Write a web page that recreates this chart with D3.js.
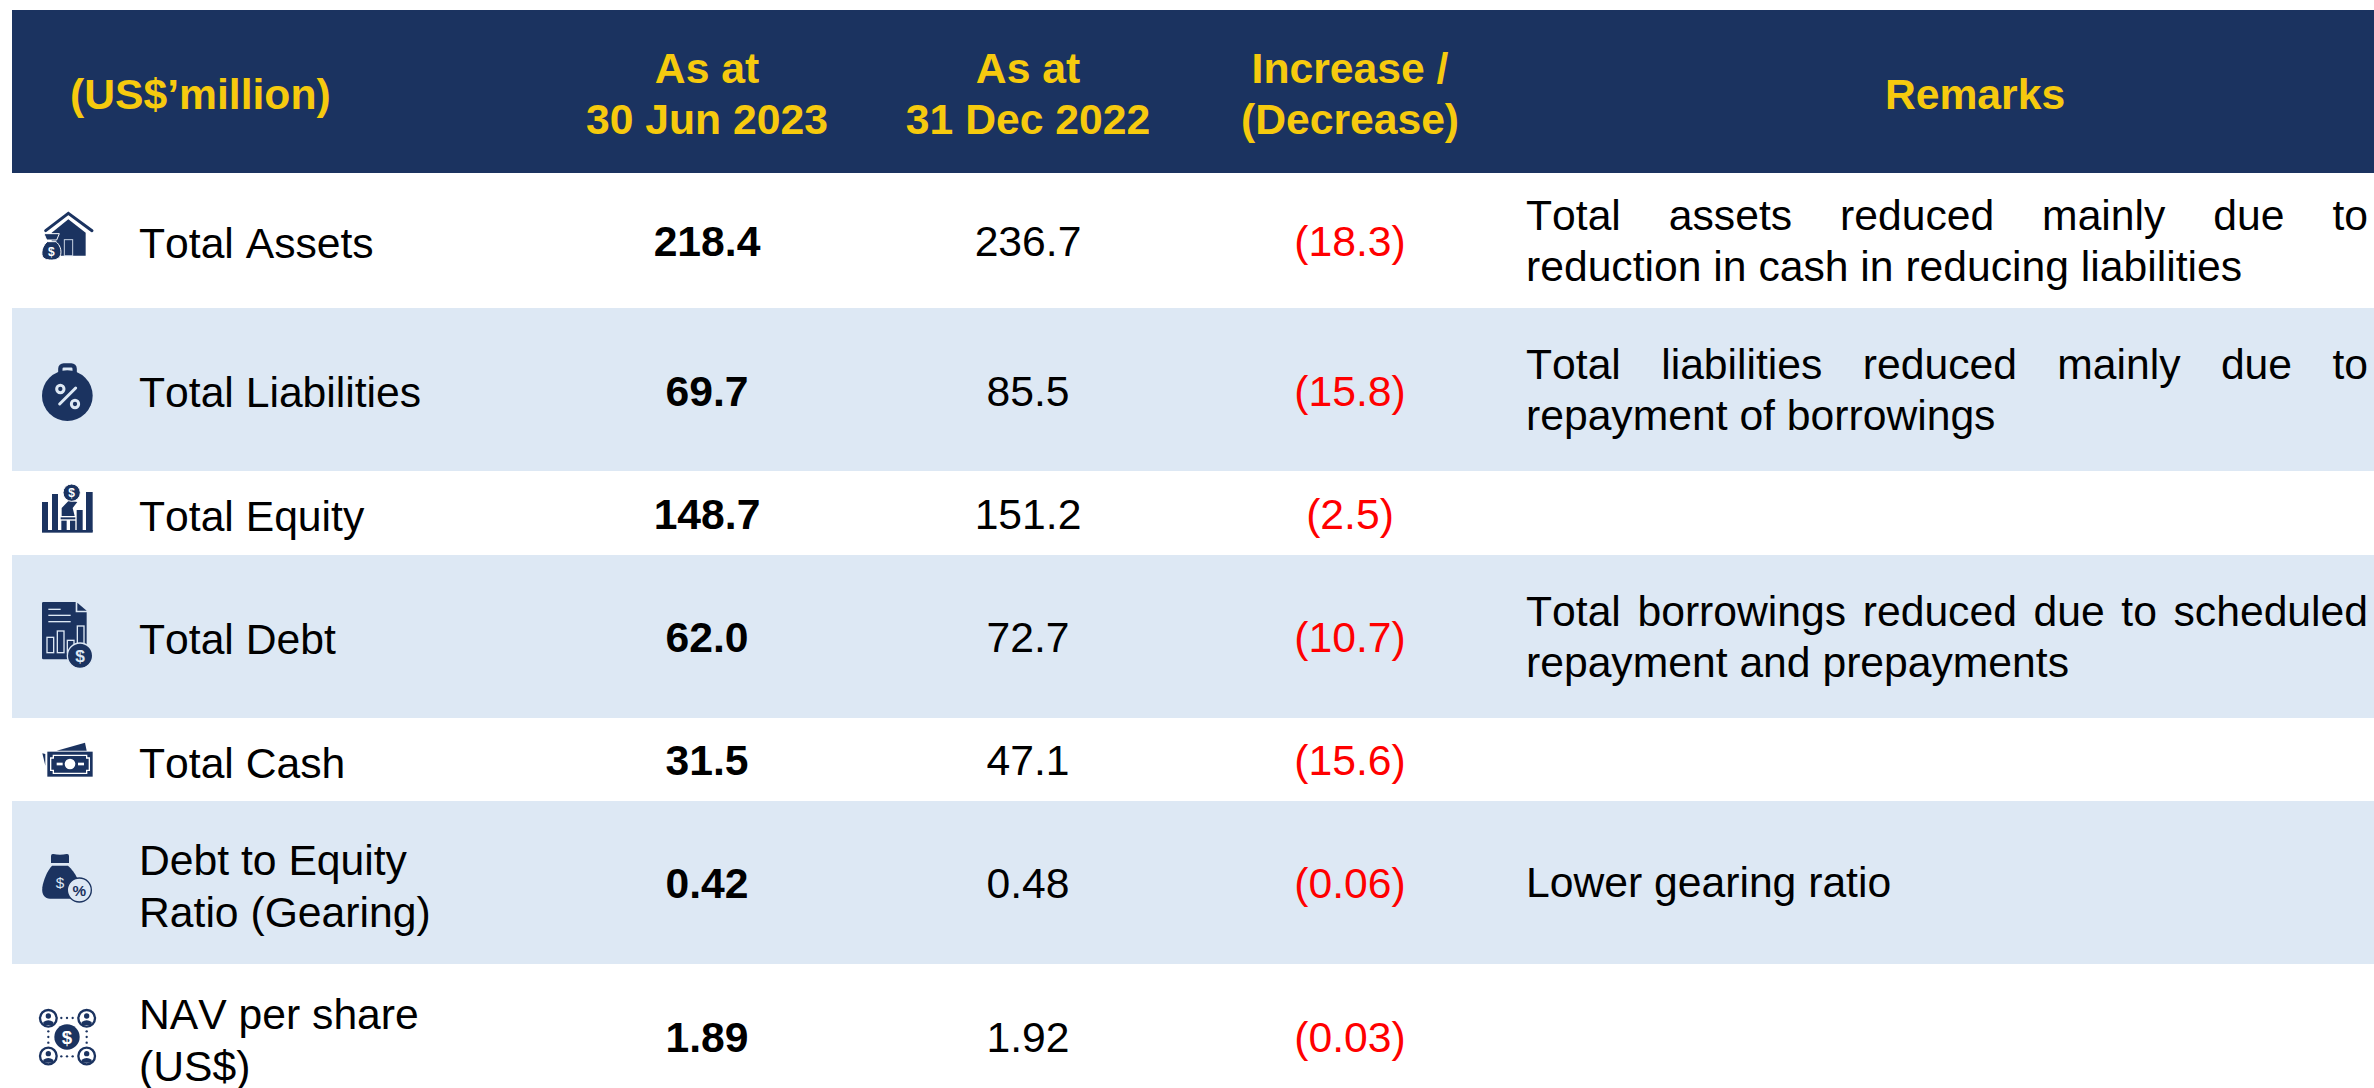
<!DOCTYPE html>
<html>
  <head>
    <title>Balance sheet table</title>
    <style>
      html, body { margin: 0; padding: 0; background: #fff; }
      svg { display: block; }
      text { font-family: "Liberation Sans", Arial, sans-serif; font-kerning: none; }
    </style>
  </head>
  <body>
    <svg width="2374" height="1088"></svg>
    <script src="https://cdn.jsdelivr.net/npm/d3@7/dist/d3.min.js"></script>
    <script>
      // data
      var categories = ["Total Assets", "Total Liabilities", "Total Equity", "Total Debt", "Total Cash", "Debt to Equity|Ratio (Gearing)", "NAV per share|(US$)"];
      var jun2023 = [218.4, 69.7, 148.7, 62.0, 31.5, 0.42, 1.89];
      var dec2022 = [236.7, 85.5, 151.2, 72.7, 47.1, 0.48, 1.92];
      var change = [-18.3, -15.8, -2.5, -10.7, -15.6, -0.06, -0.03];
      var decimals = [1, 1, 1, 1, 1, 2, 2];
      var remarks = [
        ["Total assets reduced mainly due to", "reduction in cash in reducing liabilities"],
        ["Total liabilities reduced mainly due to", "repayment of borrowings"],
        [],
        ["Total borrowings reduced due to scheduled", "repayment and prepayments"],
        [],
        ["Lower gearing ratio"],
        []
      ];
      var headers = [["(US$\u2019million)"], ["As at", "30 Jun 2023"], ["As at", "31 Dec 2022"], ["Increase /", "(Decrease)"], ["Remarks"]];

      // layout
      var W = 2374, H = 1088, tableLeft = 12, tableTop = 10, headerBottom = 173;
      var rowEdges = [173, 308, 471, 555, 718, 801, 964, 1088];
      var labelBase = [258, 407, 531, 654, 778, 875, 1029];
      var valueBase = [256, 406, 529, 652, 775, 898, 1052];
      var remarkBase = [230, 379, 0, 626, 0, 897, 0];
      var labelLineH = 52, remarkLineH = 51;
      var navy = "#1b3360", yellow = "#f6ca0e", band = "#dde8f4";

      var svg = d3.select("svg");
      var columns = d3.scaleOrdinal().domain(["jun", "dec", "chg", "rem"]).range([707, 1028, 1350, 1975]);
      var rowTop = d3.scaleOrdinal().domain(d3.range(categories.length)).range(rowEdges.slice(0, -1));
      var rowBottom = d3.scaleOrdinal().domain(d3.range(categories.length)).range(rowEdges.slice(1));

      // background
      svg.append("rect").attr("x", tableLeft).attr("y", tableTop).attr("width", W - tableLeft).attr("height", headerBottom - tableTop).attr("fill", navy);
      svg.selectAll("rect.band")
        .data(d3.range(categories.length).filter(function(i){ return i % 2 == 1; }))
        .enter().append("rect")
        .attr("class", "band")
        .attr("x", tableLeft)
        .attr("y", function(i){ return rowTop(i); })
        .attr("width", W - tableLeft)
        .attr("height", function(i){ return rowBottom(i) - rowTop(i); })
        .attr("fill", band);

      // header text
      var headX = [70, columns("jun"), columns("dec"), columns("chg"), columns("rem")];
      headers.forEach(function(lines, c){
        lines.forEach(function(s, k){
          svg.append("text")
            .attr("x", headX[c])
            .attr("y", lines.length == 1 ? 109 : (k == 0 ? 83 : 134))
            .attr("text-anchor", c == 0 ? "start" : "middle")
            .attr("font-size", 42.67)
            .attr("font-weight", "bold")
            .attr("fill", yellow)
            .text(s);
        });
      });

      // rows
      var fontSize = 42.67;
      function num(v, i){ return d3.format("." + decimals[i] + "f")(Math.abs(v)); }

      categories.forEach(function(cat, i){
        var lines = cat.split("|");
        lines.forEach(function(s, k){
          svg.append("text").attr("x", 139).attr("y", labelBase[i] + k * labelLineH)
            .attr("font-size", fontSize).attr("fill", "#000").text(s);
        });
      });

      svg.selectAll("text.jun").data(jun2023).enter().append("text")
        .attr("class", "jun").attr("x", columns("jun"))
        .attr("y", function(d, i){ return valueBase[i]; })
        .attr("text-anchor", "middle").attr("font-size", fontSize).attr("font-weight", "bold")
        .text(function(d, i){ return num(d, i); });

      svg.selectAll("text.dec").data(dec2022).enter().append("text")
        .attr("class", "dec").attr("x", columns("dec"))
        .attr("y", function(d, i){ return valueBase[i]; })
        .attr("text-anchor", "middle").attr("font-size", fontSize)
        .text(function(d, i){ return num(d, i); });

      svg.selectAll("text.chg").data(change).enter().append("text")
        .attr("class", "chg").attr("x", columns("chg"))
        .attr("y", function(d, i){ return valueBase[i]; })
        .attr("text-anchor", "middle").attr("font-size", fontSize).attr("fill", "#ff0000")
        .text(function(d, i){ return d < 0 ? "(" + num(d, i) + ")" : num(d, i); });

      // remarks, first line of a two line remark is justified
      var remLeft = 1526, remRight = 2368;
      remarks.forEach(function(lines, i){
        lines.forEach(function(s, k){
          var t = svg.append("text").attr("x", remLeft).attr("y", remarkBase[i] + k * remarkLineH)
            .attr("font-size", fontSize).text(s);
          if (lines.length == 2 && k == 0) {
            var gaps = s.split(" ").length - 1;
            var extra = (remRight - remLeft - t.node().getComputedTextLength()) / gaps;
            t.attr("word-spacing", extra);
          }
        });
      });

      // icons, traced in zoomed crop pixels (3x)
      function icon(x, y){
        return svg.append("g").attr("transform", "translate(" + x + "," + y + ") scale(" + (1 / 3) + ")");
      }
      function dollar(g, x, y, size, col){
        g.append("text").attr("x", x).attr("y", y).attr("text-anchor", "middle")
          .attr("font-size", size).attr("font-weight", "bold").attr("fill", col).text("$");
      }
      var light = "#dde8f4";

      // house + bag
      var a = icon(20, 190);
      a.append("path").attr("d", "M77,122L145,70L216,122").attr("fill", "none").attr("stroke", navy).attr("stroke-width", 9).attr("stroke-linecap", "round");
      a.append("path").attr("d", "M95,128L145,88L197,128V197H95Z").attr("fill", navy);
      a.append("rect").attr("x", 133).attr("y", 149).attr("width", 25).attr("height", 48).attr("fill", navy).attr("stroke", "#c9d3e3").attr("stroke-width", 3);
      a.append("path").attr("d", "M72,131H118L110,150H80Z").attr("fill", navy).attr("stroke", "#fff").attr("stroke-width", 3);
      a.append("path").attr("d", "M82,155H108C120,165 125,180 122,194C118,207 106,210 94,210C80,210 68,207 66,194C64,180 70,165 82,155Z").attr("fill", navy).attr("stroke", "#fff").attr("stroke-width", 3);
      dollar(a, 94, 198, 36, "#fff");

      // weight with percent
      var b = icon(20, 190);
      b.append("rect").attr("x", 121).attr("y", 526).attr("width", 43).attr("height", 40).attr("rx", 10).attr("fill", "none").attr("stroke", navy).attr("stroke-width", 13);
      b.append("circle").attr("cx", 142).attr("cy", 617).attr("r", 76).attr("fill", navy);
      b.append("circle").attr("cx", 121).attr("cy", 597).attr("r", 11).attr("fill", navy).attr("stroke", light).attr("stroke-width", 9);
      b.append("circle").attr("cx", 165).attr("cy", 642).attr("r", 11).attr("fill", navy).attr("stroke", light).attr("stroke-width", 9);
      b.append("line").attr("x1", 119).attr("y1", 642).attr("x2", 167).attr("y2", 594).attr("stroke", light).attr("stroke-width", 9).attr("stroke-linecap", "round");

      // bars with a hand holding a coin
      var q = icon(30, 480);
      [[36, 66, 18], [66, 42, 18], [140, 90, 18], [168, 36, 20]].forEach(function(r){
        q.append("rect").attr("x", r[0]).attr("y", r[1]).attr("width", r[2]).attr("height", 155 - r[1]).attr("fill", navy);
      });
      q.append("rect").attr("x", 36).attr("y", 150).attr("width", 152).attr("height", 8).attr("fill", navy);
      q.append("rect").attr("x", 94).attr("y", 122).attr("width", 16).attr("height", 30).attr("fill", navy);
      q.append("rect").attr("x", 120).attr("y", 122).attr("width", 16).attr("height", 30).attr("fill", navy);
      q.append("path").attr("d", "M92,112H136V118H92Z").attr("fill", navy);
      q.append("path").attr("d", "M95,108V84L116,62L142,66L128,84L134,108Z").attr("fill", navy);
      q.append("circle").attr("cx", 125).attr("cy", 38).attr("r", 26).attr("fill", navy).attr("stroke", "#fff").attr("stroke-width", 3);
      dollar(q, 125, 51, 36, "#fff");

      // document
      var d = icon(20, 580);
      d.append("path").attr("d", "M66,70Q66,66 70,66H167V97H200V232Q200,238 194,238H70Q66,238 66,234Z").attr("fill", navy);
      d.append("path").attr("d", "M172,68L200,92H172Z").attr("fill", navy);
      [[85, 122, 88], [85, 152, 106], [85, 152, 125]].forEach(function(l){
        d.append("line").attr("x1", l[0]).attr("x2", l[1]).attr("y1", l[2]).attr("y2", l[2]).attr("stroke", light).attr("stroke-width", 4);
      });
      [[81, 172, 20, 46], [112, 153, 20, 65], [142, 181, 20, 37], [172, 138, 20, 60]].forEach(function(r){
        d.append("rect").attr("x", r[0]).attr("y", r[1]).attr("width", r[2]).attr("height", r[3]).attr("fill", "none").attr("stroke", light).attr("stroke-width", 4);
      });
      d.append("circle").attr("cx", 180).attr("cy", 227).attr("r", 38).attr("fill", navy).attr("stroke", light).attr("stroke-width", 4);
      dollar(d, 180, 246, 52, light);

      // banknotes
      var e = icon(20, 580);
      e.append("path").attr("d", "M110,512L195,488L200,512Z").attr("fill", navy);
      e.append("path").attr("d", "M67,520L76,522V557Z").attr("fill", navy);
      e.append("rect").attr("x", 82).attr("y", 515).attr("width", 136).attr("height", 75).attr("fill", navy);
      e.append("path").attr("d", "M100,526H200V534H208V571H200V580H100V571H92V534H100Z").attr("fill", "none").attr("stroke", "#fff").attr("stroke-width", 4);
      e.append("circle").attr("cx", 150).attr("cy", 552).attr("r", 16).attr("fill", "#fff");
      e.append("line").attr("x1", 110).attr("x2", 128).attr("y1", 552).attr("y2", 552).attr("stroke", "#fff").attr("stroke-width", 8);
      e.append("line").attr("x1", 174).attr("x2", 192).attr("y1", 552).attr("y2", 552).attr("stroke", "#fff").attr("stroke-width", 8);

      // money bag with percent
      var f = icon(20, 830);
      f.append("path").attr("d", "M93,78Q93,71 100,72Q120,76 140,72Q147,71 147,78V99H93Z").attr("fill", navy);
      f.append("path").attr("d", "M96,107H144C165,125 185,160 178,190C172,205 160,206 150,206H90C75,206 64,195 67,172C70,150 82,122 96,107Z").attr("fill", navy);
      f.append("text").attr("x", 120).attr("y", 173).attr("text-anchor", "middle").attr("font-size", 46).attr("fill", light).text("$");
      f.append("circle").attr("cx", 178).attr("cy", 180).attr("r", 36).attr("fill", light).attr("stroke", navy).attr("stroke-width", 4);
      f.append("text").attr("x", 178).attr("y", 197).attr("text-anchor", "middle").attr("font-size", 46).attr("font-weight", "bold").attr("fill", navy).text("%");

      // people around a coin
      var n = icon(20, 830);
      n.append("circle").attr("cx", 141).attr("cy", 621).attr("r", 38).attr("fill", navy);
      dollar(n, 141, 641, 56, "#fff");
      [[85, 565], [200, 565], [85, 678], [200, 678]].forEach(function(c){
        n.append("circle").attr("cx", c[0]).attr("cy", c[1]).attr("r", 25).attr("fill", "#fff").attr("stroke", navy).attr("stroke-width", 7);
        n.append("circle").attr("cx", c[0]).attr("cy", c[1] - 7).attr("r", 8).attr("fill", navy);
        n.append("path").attr("d", "M" + (c[0] - 15) + "," + (c[1] + 20) + "V" + (c[1] + 11) + "Q" + c[0] + "," + (c[1] + 1) + " " + (c[0] + 15) + "," + (c[1] + 11) + "V" + (c[1] + 20) + "Z").attr("fill", navy);
      });
      [[124, 564], [141, 564], [158, 564], [124, 679], [141, 679], [158, 679], [85, 604], [85, 621], [85, 638], [200, 604], [200, 621], [200, 638]].forEach(function(c){
        n.append("circle").attr("cx", c[0]).attr("cy", c[1]).attr("r", 3.5).attr("fill", navy);
      });
    </script>
  </body>
</html>
